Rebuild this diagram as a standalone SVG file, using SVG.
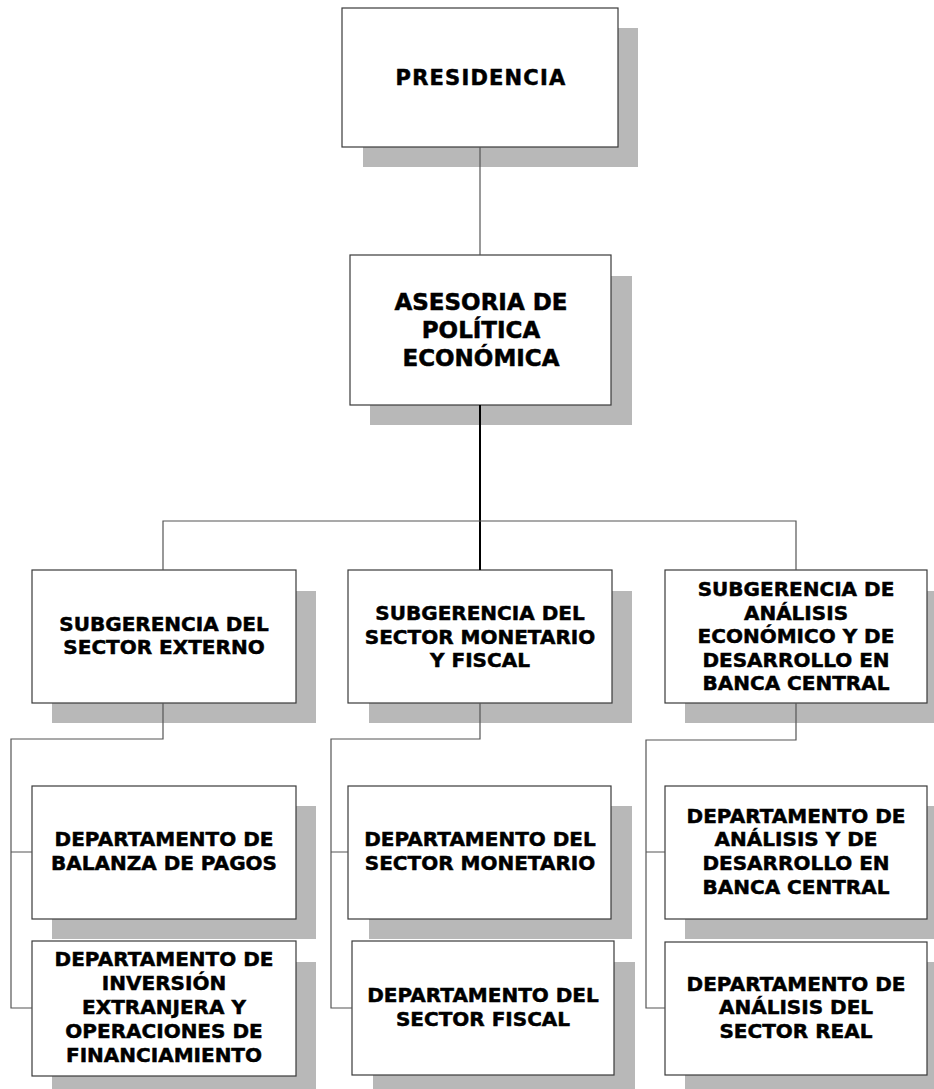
<svg xmlns="http://www.w3.org/2000/svg" width="934" height="1089" viewBox="0 0 934 1089">
<style>
.sh{fill:#b8b8b8}
.bx{fill:#ffffff;stroke:#3a3a3a;stroke-width:1.2}
.t{font-family:"DejaVu Sans","Liberation Sans",sans-serif;font-weight:bold;font-size:20px;fill:#000;stroke:#000;stroke-width:0.5;text-anchor:middle}
.tl{font-size:23px}
.tp{font-size:21px;letter-spacing:1.2px}
.c{fill:none;stroke:#555;stroke-width:1.2}
.ck{fill:none;stroke:#000;stroke-width:2}
</style>
<rect width="934" height="1089" fill="#ffffff"/>
<g id="presidencia">
<rect class="sh" x="363" y="28" width="275" height="139"/>
<rect class="bx" x="342" y="8" width="276" height="139"/>
<text class="t tp" x="481" y="85">PRESIDENCIA</text>
</g>
<g id="asesoria">
<rect class="sh" x="370" y="276" width="262" height="149"/>
<rect class="bx" x="350" y="255" width="261" height="150"/>
<text class="t tl" x="481" y="310">ASESORIA DE</text>
<text class="t tl" x="481" y="338">POLÍTICA</text>
<text class="t tl" x="481" y="366">ECONÓMICA</text>
</g>
<g id="sub-externo">
<rect class="sh" x="52" y="591" width="264" height="132"/>
<rect class="bx" x="32" y="570" width="264" height="133"/>
<text class="t" x="164" y="631">SUBGERENCIA DEL</text>
<text class="t" x="164" y="654">SECTOR EXTERNO</text>
</g>
<g id="sub-monetario">
<rect class="sh" x="369" y="591" width="263" height="132"/>
<rect class="bx" x="348" y="570" width="264" height="133"/>
<text class="t" x="480" y="620">SUBGERENCIA DEL</text>
<text class="t" x="480" y="643.5">SECTOR MONETARIO</text>
<text class="t" x="480" y="667">Y FISCAL</text>
</g>
<g id="sub-analisis">
<rect class="sh" x="685" y="591" width="262" height="132"/>
<rect class="bx" x="665" y="570" width="262" height="133"/>
<text class="t" x="796" y="596">SUBGERENCIA DE</text>
<text class="t" x="796" y="619.5">ANÁLISIS</text>
<text class="t" x="796" y="643">ECONÓMICO Y DE</text>
<text class="t" x="796" y="666.5">DESARROLLO EN</text>
<text class="t" x="796" y="690">BANCA CENTRAL</text>
</g>
<g id="dep-balanza">
<rect class="sh" x="52" y="806" width="264" height="133"/>
<rect class="bx" x="32" y="786" width="264" height="133"/>
<text class="t" x="164" y="846">DEPARTAMENTO DE</text>
<text class="t" x="164" y="870">BALANZA DE PAGOS</text>
</g>
<g id="dep-inversion">
<rect class="sh" x="52" y="962" width="264" height="135"/>
<rect class="bx" x="32" y="941" width="264" height="135"/>
<text class="t" x="164" y="966">DEPARTAMENTO DE</text>
<text class="t" x="164" y="990">INVERSIÓN</text>
<text class="t" x="164" y="1014">EXTRANJERA Y</text>
<text class="t" x="164" y="1038">OPERACIONES DE</text>
<text class="t" x="164" y="1062">FINANCIAMIENTO</text>
</g>
<g id="dep-monetario">
<rect class="sh" x="369" y="806" width="263" height="133"/>
<rect class="bx" x="348" y="786" width="263" height="133"/>
<text class="t" x="480" y="846">DEPARTAMENTO DEL</text>
<text class="t" x="480" y="870">SECTOR MONETARIO</text>
</g>
<g id="dep-fiscal">
<rect class="sh" x="373" y="962" width="262" height="134"/>
<rect class="bx" x="352" y="941" width="262" height="134"/>
<text class="t" x="483" y="1002">DEPARTAMENTO DEL</text>
<text class="t" x="483" y="1025.5">SECTOR FISCAL</text>
</g>
<g id="dep-analisis-desarrollo">
<rect class="sh" x="685" y="806" width="262" height="133"/>
<rect class="bx" x="665" y="786" width="262" height="133"/>
<text class="t" x="796" y="822.5">DEPARTAMENTO DE</text>
<text class="t" x="796" y="846">ANÁLISIS Y DE</text>
<text class="t" x="796" y="870">DESARROLLO EN</text>
<text class="t" x="796" y="894">BANCA CENTRAL</text>
</g>
<g id="dep-sector-real">
<rect class="sh" x="685" y="962" width="262" height="134"/>
<rect class="bx" x="665" y="942" width="262" height="133"/>
<text class="t" x="796" y="990.5">DEPARTAMENTO DE</text>
<text class="t" x="796" y="1014">ANÁLISIS DEL</text>
<text class="t" x="796" y="1038">SECTOR REAL</text>
</g>
<g id="connectors">
<path class="c" d="M480 147V255"/>
<path class="ck" d="M480 405V570"/>
<path class="c" d="M163 570V521H796V570"/>
<path class="c" d="M163 703V739H11V1008H32M11 852H32"/>
<path class="c" d="M480 703V739H331V1008H352M331 852H348"/>
<path class="c" d="M796 703V740H646V1008H665M646 852H665"/>
</g>
</svg>
